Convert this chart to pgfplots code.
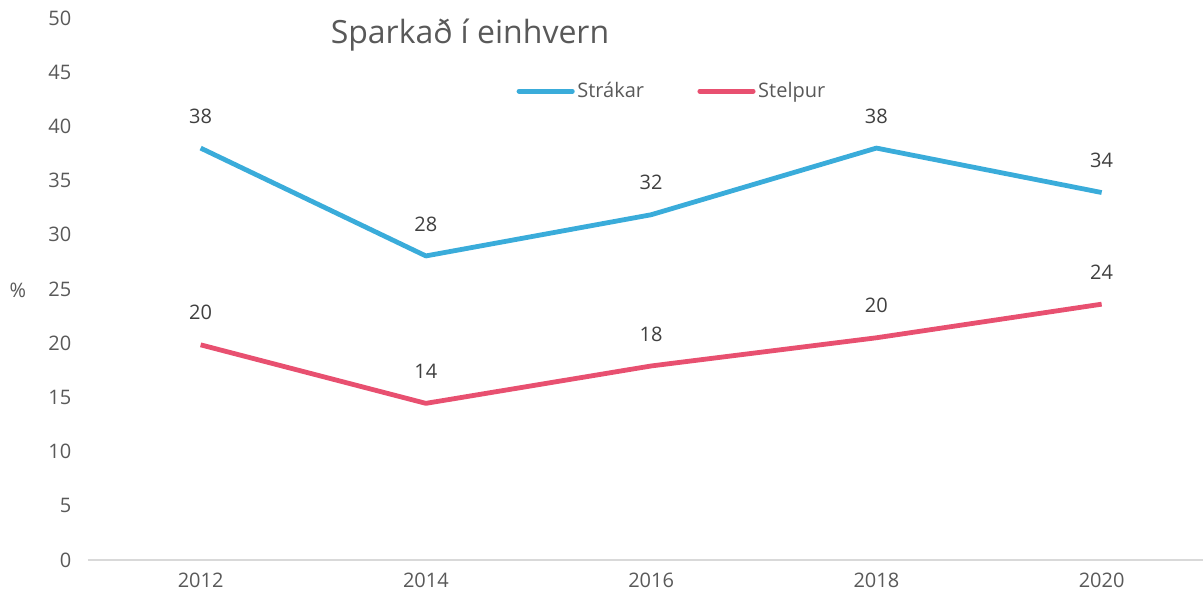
\documentclass[border=0pt]{standalone}
\usepackage{pgfplots}
\pgfplotsset{compat=1.18}
\usepackage{fontspec}
\setmainfont{Open Sans}
\definecolor{cblue}{RGB}{58,172,218}
\definecolor{cred}{RGB}{232,80,112}
\definecolor{ctext}{RGB}{89,89,89}
\definecolor{clab}{RGB}{64,64,64}
\definecolor{caxis}{RGB}{217,217,217}
\begin{document}
\begin{tikzpicture}
\begin{axis}[
  at={(0pt,0pt)}, anchor=origin,
  scale only axis,
  width=836.25pt, height=406.5pt,
  xmin=2011.0, xmax=2020.9,
  ymin=0, ymax=50,
  xtick={2012,2014,2016,2018,2020},
  xticklabels={2012,2014,2016,2018,2020},
  ytick={0,5,...,50},
  axis line style={draw=none},
  tick style={draw=none},
  /pgf/number format/assume math mode=true,
  tick label style={font=\fontsize{15}{18}\selectfont, text=ctext},
  yticklabel style={xshift=-9pt},
  xticklabel style={yshift=-6pt},
  clip=false,
  legend columns=2,
  legend style={draw=none, fill=none, at={(axis description cs:0.524,0.865)}, anchor=center,
    font=\fontsize{15}{18}\selectfont, text=ctext,
    /tikz/every even column/.append style={column sep=38pt},
    nodes={inner xsep=2pt}},
  legend image code/.code={\draw[#1, line cap=round] (0pt,0pt) -- (40pt,0pt);},
  nodes near coords,
  point meta=explicit symbolic,
  nodes near coords style={anchor=center, yshift=24pt, font=\fontsize{15}{18}\selectfont, text=clab},
]
\draw[caxis, line width=1.2pt] (rel axis cs:0,0) -- (rel axis cs:1,0);
\addplot[cblue, line width=3.6pt, line join=round] table[meta=lab] {
x y lab
2012 38.0 38
2014 28.05 28
2016 31.85 32
2018 38.0 38
2020 33.9 34
};
\addlegendentry{Strákar}
\addplot[cred, line width=3.6pt, line join=round] table[meta=lab] {
x y lab
2012 19.85 20
2014 14.45 14
2016 17.9 18
2018 20.5 20
2020 23.6 24
};
\addlegendentry{Stelpur}
\node[anchor=west, text=ctext, font=\fontsize{24}{29}\selectfont] at (axis description cs:0.2135,0.969) {Sparkað í einhvern};
\node[text=ctext, font=\fontsize{15}{18}\selectfont] at (axis description cs:-0.063,0.498) {\%};
\end{axis}
\pgfresetboundingbox
\path (-66pt,-30pt) rectangle (836.25pt,420pt);
\end{tikzpicture}
\end{document}
